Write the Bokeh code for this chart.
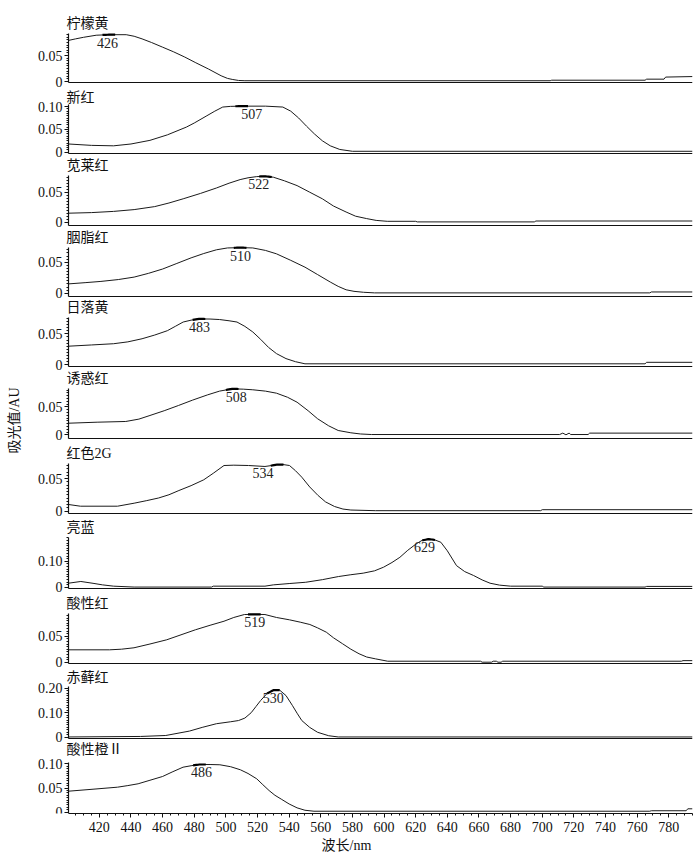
import numpy as np
from bokeh.plotting import figure
from bokeh.models import (Range1d, FixedTicker, CustomJSTickFormatter, Label,
                          ColumnDataSource, LinearAxis)
from bokeh.embed import file_html
from bokeh.resources import INLINE
from bokeh.core.properties import value

# ---------------- data ----------------
dye_names = ["柠檬黄", "新红", "苋莱红", "胭脂红", "日落黄", "诱惑红",
             "红色2G", "亮蓝", "酸性红", "赤藓红", "酸性橙Ⅱ"]

peak_text = ["426", "507", "522", "510", "483", "508", "534", "629", "519", "530", "486"]
peak_x = [425.1, 516.4, 520.8, 509.2, 483.3, 506.6, 523.4, 625.6, 518.2, 529.9, 484.6]

wl_1 = [400.5, 405, 410, 418, 426, 437, 442, 447, 453, 460, 467, 474, 481, 489, 497, 501, 504, 508, 512,
        705, 706, 765, 766, 777, 778, 795]
ab_1 = [0.079, 0.082, 0.085, 0.089, 0.090, 0.090, 0.087, 0.082, 0.075, 0.066, 0.057, 0.047, 0.036, 0.024,
        0.011, 0.006, 0.004, 0.002, 0.0015, 0.0015, 0.0025, 0.0025, 0.0045, 0.0045, 0.0085, 0.0095]

wl_2 = [400.5, 415, 429, 440, 452, 463, 475, 480, 488, 493, 498, 503, 510, 525, 536, 541, 546, 551, 556,
        561, 566, 572, 580, 795]
ab_2 = [0.018, 0.015, 0.014, 0.018, 0.026, 0.038, 0.055, 0.064, 0.080, 0.090, 0.099, 0.1005, 0.101, 0.101,
        0.099, 0.090, 0.075, 0.057, 0.040, 0.025, 0.014, 0.006, 0.002, 0.002]

wl_3 = [400.5, 415, 429, 442, 455, 464, 473, 484, 494, 502, 509, 514, 519.5, 525, 530, 537, 545, 553, 561,
        568, 576, 582, 589, 595, 602, 620, 621, 695, 696, 795]
ab_3 = [0.015, 0.016, 0.018, 0.021, 0.026, 0.032, 0.039, 0.048, 0.057, 0.065, 0.071, 0.074, 0.076, 0.0765,
        0.075, 0.069, 0.061, 0.050, 0.039, 0.027, 0.017, 0.010, 0.006, 0.003, 0.0015, 0.0015, 0.0005,
        0.0005, 0.002, 0.002]

wl_4 = [400.5, 411, 421, 432, 442, 451, 460, 469, 478, 486, 494, 501, 509, 517, 525, 532, 541, 550, 558,
        566, 571, 576, 581, 587, 594, 768, 769, 795]
ab_4 = [0.015, 0.017, 0.019, 0.022, 0.026, 0.032, 0.039, 0.048, 0.057, 0.064, 0.070, 0.073, 0.0735, 0.073,
        0.069, 0.0635, 0.053, 0.042, 0.030, 0.018, 0.011, 0.0055, 0.003, 0.0015, 0.0005, 0.0005, 0.002,
        0.002]

wl_5 = [400.5, 415, 429, 438, 447, 455, 463, 468, 473, 478, 483, 490, 496, 502, 507, 512, 517, 522, 527,
        532, 538, 544, 550, 765, 766, 795]
ab_5 = [0.030, 0.032, 0.034, 0.037, 0.042, 0.048, 0.055, 0.062, 0.069, 0.072, 0.074, 0.0738, 0.073, 0.071,
        0.069, 0.062, 0.053, 0.041, 0.028, 0.018, 0.010, 0.005, 0.0016, 0.0016, 0.004, 0.004]

wl_6 = [400.5, 418.6, 436.7, 445, 452, 461, 470, 479, 488.5, 496, 504, 511, 517, 525, 532, 539, 545, 552,
        558, 565, 571, 579, 585, 592, 711, 713, 715, 717, 718, 729, 730, 795]
ab_6 = [0.0207, 0.0225, 0.0238, 0.028, 0.0345, 0.043, 0.0523, 0.062, 0.0714, 0.078, 0.0821, 0.0815, 0.0804,
        0.078, 0.0743, 0.067, 0.0582, 0.043, 0.0286, 0.016, 0.0077, 0.0036, 0.0015, 0.0005, 0.0005, 0.003,
        0.0, 0.003, 0.0005, 0.0005, 0.003, 0.003]

wl_7 = [400.5, 408, 431.5, 442, 450, 457.4, 464, 470.3, 478, 486, 492, 498.8, 505, 514.3, 524.7, 529,
        532.4, 536, 540.2, 544, 548, 553, 558.3, 563, 568.7, 574, 579, 594.5, 699, 700, 795]
ab_7 = [0.010, 0.0074, 0.0074, 0.012, 0.016, 0.020, 0.025, 0.0315, 0.039, 0.048, 0.058, 0.070, 0.0705,
        0.070, 0.0685, 0.070, 0.0715, 0.0715, 0.070, 0.062, 0.052, 0.037, 0.0238, 0.014, 0.0069, 0.003,
        0.0015, 0.0005, 0.0005, 0.002, 0.002]

wl_8 = [400.5, 408.3, 416, 422, 429, 442, 491, 492, 524.7, 530, 540, 550.5, 561, 571.2, 579, 586.8, 594,
        599.7, 605, 610, 615, 620.4, 624, 628.2, 632, 635.9, 640, 645.8, 651, 656.6, 662, 667, 673, 680,
        700, 701, 765, 766, 795]
ab_8 = [0.0154, 0.022, 0.015, 0.009, 0.004, 0.0005, 0.0005, 0.004, 0.004, 0.009, 0.014, 0.019, 0.029, 0.041,
        0.048, 0.054, 0.063, 0.077, 0.095, 0.115, 0.142, 0.167, 0.180, 0.185, 0.182, 0.173, 0.140, 0.083,
        0.060, 0.045, 0.028, 0.0154, 0.008, 0.004, 0.004, 0.0005, 0.0005, 0.003, 0.003]

wl_9 = [400.5, 426.4, 434, 441.9, 452, 462.6, 471, 480.7, 490, 498.8, 505, 511.7, 518, 524.7, 532, 540.2,
        547, 553.1, 558, 563.5, 568, 573.8, 579, 584.2, 589, 594.5, 602.3, 661, 662, 668, 669, 671, 672,
        674, 675, 788, 789, 795]
ab_9 = [0.0238, 0.0238, 0.025, 0.0277, 0.035, 0.0431, 0.052, 0.0623, 0.071, 0.0788, 0.086, 0.0917, 0.092,
        0.0917, 0.086, 0.0815, 0.077, 0.0725, 0.066, 0.0577, 0.047, 0.0354, 0.025, 0.0162, 0.010, 0.0065,
        0.0019, 0.0019, 0.0, 0.0, 0.0019, 0.0019, 0.0, 0.0, 0.0019, 0.0019, 0.003, 0.003]

wl_10 = [400.5, 446, 462, 477, 485, 494, 503, 508, 512, 516, 519, 522, 526, 530, 534, 538, 542, 545, 548,
         553, 558, 565, 571, 795]
ab_10 = [0.001, 0.003, 0.007, 0.025, 0.040, 0.055, 0.063, 0.068, 0.078, 0.100, 0.125, 0.150, 0.178, 0.192,
         0.192, 0.170, 0.130, 0.098, 0.068, 0.040, 0.020, 0.006, 0.001, 0.001]

wl_11 = [400.5, 416, 431.5, 438, 444.5, 452, 460, 466, 472.9, 478, 483.3, 490, 496.2, 503, 509.2, 514,
         519.5, 523, 527.3, 531, 535, 540, 545, 550, 555.7, 768, 769, 791, 792, 795]
ab_11 = [0.0434, 0.0475, 0.0517, 0.055, 0.0587, 0.066, 0.0738, 0.083, 0.093, 0.096, 0.0986, 0.0985, 0.098,
         0.094, 0.0876, 0.080, 0.069, 0.058, 0.0448, 0.035, 0.027, 0.017, 0.009, 0.004, 0.002, 0.002,
         0.003, 0.003, 0.007, 0.007]

wavelengths = [wl_1, wl_2, wl_3, wl_4, wl_5, wl_6, wl_7, wl_8, wl_9, wl_10, wl_11]
absorbance = [ab_1, ab_2, ab_3, ab_4, ab_5, ab_6, ab_7, ab_8, ab_9, ab_10, ab_11]

y_major = [[0, 0.05], [0, 0.05, 0.10], [0, 0.05], [0, 0.05], [0, 0.05], [0, 0.05],
           [0, 0.05], [0, 0.10], [0, 0.05], [0, 0.10, 0.20], [0, 0.05, 0.10]]
x_major = list(range(420, 781, 20))
WL_START, WL_END = 400.5, 795

# ---------------- layout / style (pixels from the top-left of the plot frame) ----------------
SERIF = "'Liberation Serif', 'Noto Sans CJK SC'"
FRAME_H = 813
AXIS_X = 68           # where the wavelength axis starts
DATA_W = 624          # pixel width of the wavelength span
FRAME_W = AXIS_X + DATA_W
NM_PER_PX = (WL_END - WL_START) / DATA_W
axis_line_y = [82, 153, 225, 296, 366, 438, 513, 588, 663, 738, 813]
zero_y = [81, 151.7, 221.7, 292.7, 364.3, 434.3, 510.5, 586.7, 661.7, 736.7, 811.7]
title_y = [22.7, 96.7, 165, 237, 306.7, 378.3, 452.5, 527.3, 603.3, 676.5, 748.8]
px_per_unit = [520, 456, 600, 620, 620, 560, 650, 260, 520, 245, 484]
axis_top = [0.0917, 0.1046, 0.078, 0.074, 0.077, 0.083, 0.0735, 0.19, 0.094, 0.207, 0.103]
minor_step = [0.005, 0.005, 0.005, 0.005, 0.005, 0.005, 0.005, 0.01, 0.005, 0.01, 0.005]
INK = "#111111"

p = figure(frame_width=FRAME_W, frame_height=FRAME_H,
           x_range=Range1d(WL_START - AXIS_X * NM_PER_PX, WL_END),
           y_range=Range1d(0, FRAME_H), y_axis_type=None, toolbar_location=None,
           output_backend="svg", title=None, min_border_left=0, min_border_right=4,
           min_border_top=0, min_border_bottom=0)
p.outline_line_color = None
p.grid.visible = False

# bottom axis (wavelength)
xa = p.below[0]
xa.bounds = (WL_START, WL_END)
xa.ticker = FixedTicker(ticks=x_major, minor_ticks=list(range(405, 796, 5)))
xa.axis_line_color = INK
xa.axis_line_width = 1.2
xa.major_tick_out = 4
xa.major_tick_in = 0
xa.minor_tick_out = 2
xa.minor_tick_in = 0
xa.major_tick_line_color = INK
xa.minor_tick_line_color = INK
xa.major_label_text_font = SERIF
xa.major_label_text_font_size = "14px"
xa.major_label_text_color = INK
xa.major_label_standoff = 4
xa.axis_label = "波长/nm"
xa.axis_label_text_font = SERIF
xa.axis_label_text_font_size = "14px"
xa.axis_label_text_font_style = "normal"
xa.axis_label_text_color = INK
xa.axis_label_standoff = 3

fmt = CustomJSTickFormatter(code="return Math.abs(tick) < 1e-9 ? '0' : tick.toFixed(2);")

ranges = {}
for i in range(11):
    s = px_per_unit[i]
    zero_px = FRAME_H - zero_y[i]
    ranges[f"p{i}"] = Range1d(-zero_px / s, (FRAME_H - zero_px) / s)
p.extra_y_ranges = ranges

for i in range(11):
    rn = f"p{i}"
    s = px_per_unit[i]
    base_val = (zero_y[i] - axis_line_y[i]) / s

    xs = np.array(wavelengths[i], dtype=float)
    ys = np.array(absorbance[i], dtype=float)
    p.line(xs, ys, line_color="#1a1a1a", line_width=1, y_range_name=rn)

    # thicker mark at the absorption maximum
    xm = xs[np.argmax(ys)]
    seg_x = np.linspace(xm - 4, xm + 4, 9)
    seg_y = np.interp(seg_x, xs, ys)
    p.line(seg_x, seg_y, line_color="#000000", line_width=2.2, y_range_name=rn)

    src = ColumnDataSource(dict(x=[peak_x[i]], y=[float(ys.max())], t=[peak_text[i]]))
    p.text(x="x", y="y", text="t", source=src, text_font=value(SERIF), text_font_size="14px",
           text_align="center", text_baseline="top", y_offset=3, text_color="#222222",
           y_range_name=rn)

    p.add_layout(Label(x=AXIS_X - 2, y=FRAME_H - title_y[i], x_units="screen", y_units="screen",
                       text=dye_names[i], text_font=SERIF, text_font_size="14px",
                       text_baseline="middle", text_color=INK))

    minors = list(np.round(np.arange(0, axis_top[i] + 1e-9, minor_step[i]), 4))
    ya = LinearAxis(y_range_name=rn, fixed_location=WL_START,
                    ticker=FixedTicker(ticks=y_major[i], minor_ticks=minors),
                    formatter=fmt, bounds=(base_val, axis_top[i]),
                    major_tick_out=4, major_tick_in=0, minor_tick_out=2, minor_tick_in=0,
                    axis_line_color=INK, axis_line_width=1.2,
                    major_tick_line_color=INK, minor_tick_line_color=INK,
                    major_label_text_font=SERIF, major_label_text_font_size="14px",
                    major_label_text_color=INK, major_label_standoff=2)
    p.add_layout(ya, "left")

    if i < 10:
        base = LinearAxis(y_range_name=rn, fixed_location=base_val, bounds=(WL_START, WL_END),
                          ticker=FixedTicker(ticks=[], minor_ticks=[]),
                          major_tick_out=0, major_tick_in=0, minor_tick_out=0, minor_tick_in=0,
                          axis_line_color=INK, axis_line_width=1.2)
        p.add_layout(base, "below")

p.add_layout(Label(x=14, y=FRAME_H - 420, x_units="screen", y_units="screen", text="吸光值/AU",
                   angle=np.pi / 2, text_align="center", text_baseline="middle",
                   text_font=SERIF, text_font_size="14px", text_color=INK))

open("out.html", "w").write(file_html(p, INLINE))
